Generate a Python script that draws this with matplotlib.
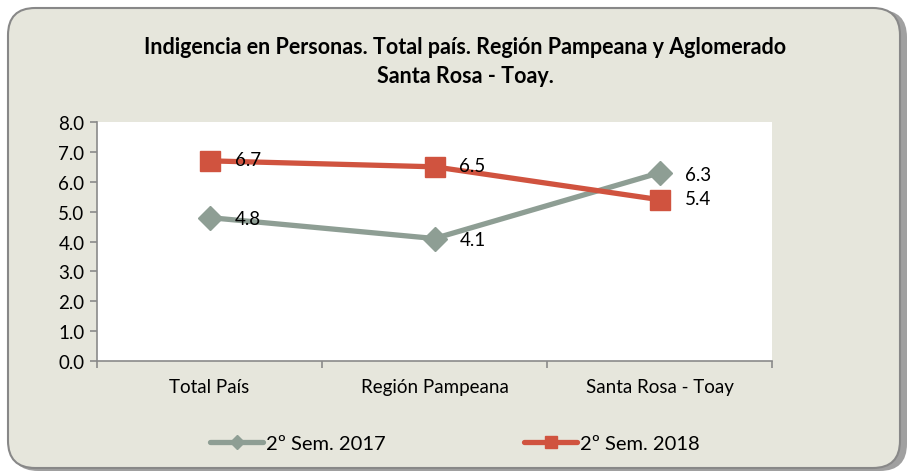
import matplotlib
matplotlib.use("Agg")
import matplotlib.pyplot as plt
from matplotlib.patches import FancyBboxPatch
from matplotlib.lines import Line2D
import numpy as np

categories = ["Total País", "Región Pampeana", "Santa Rosa - Toay"]
series_names = ["2º Sem. 2017", "2º Sem. 2018"]
values_2017 = [4.8, 4.1, 6.3]
values_2018 = [6.7, 6.5, 5.4]
yticks = [0.0, 1.0, 2.0, 3.0, 4.0, 5.0, 6.0, 7.0, 8.0]
title = "Indigencia en Personas. Total país. Región Pampeana y Aglomerado\nSanta Rosa - Toay."

plt.rcParams['font.family'] = ['Lato', 'DejaVu Sans']

W, H = 907, 477
fig = plt.figure(figsize=(W / 100, H / 100), dpi=100)
fig.patch.set_facecolor("white")

bg = "#E6E6DC"
gray = "#8E9E94"
red = "#D0533F"
fs = 13.5

# shadow
shadow = FancyBboxPatch((11 / W, 5 / H), (896 / W), (461 / H),
                        boxstyle="round,pad=0,rounding_size=0.03",
                        transform=fig.transFigure, facecolor="#a0a0a0",
                        edgecolor="none", zorder=0, mutation_aspect=W / H)
fig.patches.append(shadow)
frame = FancyBboxPatch((8 / W, 8 / H), (892 / W), (460 / H),
                       boxstyle="round,pad=0,rounding_size=0.03",
                       transform=fig.transFigure, facecolor=bg,
                       edgecolor="#888888", linewidth=1.5, zorder=1,
                       mutation_aspect=W / H)
fig.patches.append(frame)

ax = fig.add_axes([97 / W, 1 - 362 / H, (772 - 97) / W, (362 - 123) / H])
ax.set_facecolor("white")
ax.set_zorder(2)

x = np.arange(len(categories))
ax.plot(x, values_2017, color=gray, lw=3.8, marker="D", markersize=12,
        solid_capstyle="round", zorder=3, clip_on=False)
ax.plot(x, values_2018, color=red, lw=3.8, marker="s", markersize=14,
        solid_capstyle="round", zorder=4, clip_on=False)

for xi, v in zip(x, values_2017):
    ax.annotate(f"{v:.1f}", (xi, v), xytext=(18, -1), textcoords="offset points",
                ha="left", va="center", fontsize=fs, color="black", zorder=5)
for xi, v in zip(x, values_2018):
    ax.annotate(f"{v:.1f}", (xi, v), xytext=(18, 1), textcoords="offset points",
                ha="left", va="center", fontsize=fs, color="black", zorder=5)

ax.set_xlim(-0.5, 2.5)
ax.set_ylim(0, 8)
ax.set_yticks(yticks)
ax.set_yticklabels([f"{t:.1f}" for t in yticks], fontsize=fs)
ax.set_xticks(x)
ax.set_xticklabels(categories, fontsize=fs)
ax.tick_params(axis="x", length=0, pad=12)
ax.set_xticks([-0.5, 0.5, 1.5, 2.5], minor=True)
ax.tick_params(axis="x", which="minor", length=5, color="#8a8a8a", width=1.2)
ax.tick_params(axis="y", length=5, color="#8a8a8a", width=1.2, pad=4)
for s in ["top", "right"]:
    ax.spines[s].set_visible(False)
for s in ["left", "bottom"]:
    ax.spines[s].set_color("#8a8a8a")
    ax.spines[s].set_linewidth(1.2)

fig.text(465 / W, 1 - 62 / H, title, ha="center", va="center",
         fontsize=15.5, fontweight="bold", linespacing=1.45)

handles = [Line2D([], [], color=gray, lw=3.8, marker="D", markersize=7, solid_capstyle="round"),
           Line2D([], [], color=red, lw=3.8, marker="s", markersize=9, solid_capstyle="round")]
leg = fig.legend(handles, series_names, loc="center", bbox_to_anchor=(455 / W, 1 - 444 / H),
                 ncol=2, frameon=False, fontsize=14.5,
                 handlelength=2.6, handletextpad=0.15, columnspacing=6.9)

fig.savefig("out.png", dpi=100, facecolor="white")
